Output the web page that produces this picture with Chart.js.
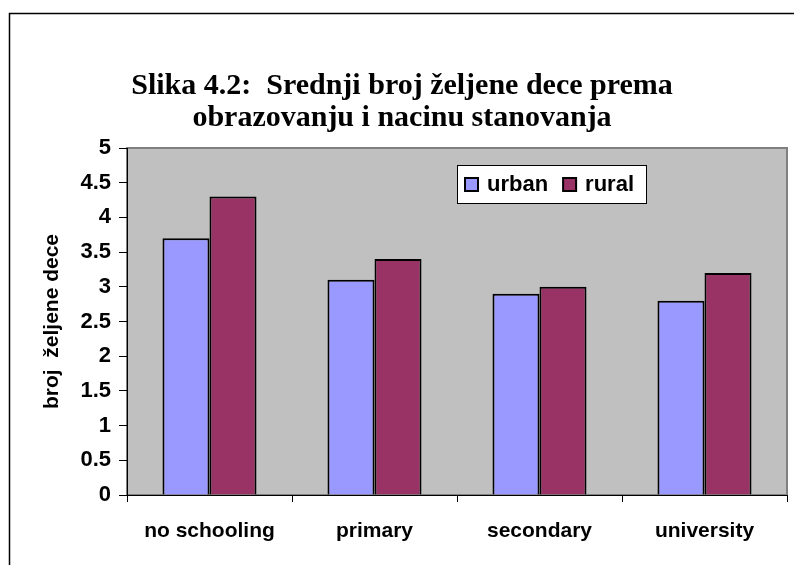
<!DOCTYPE html>
<html>
<head>
<meta charset="utf-8">
<script src="https://cdn.jsdelivr.net/npm/chart.js@4/dist/chart.umd.min.js"></script>
<style>
  html, body { margin: 0; padding: 0; background: #fff; }
  #wrap { width: 794px; height: 565px; position: relative; }
</style>
</head>
<body>
<div id="wrap"><canvas id="chart" width="794" height="565"></canvas></div>
<script>
const categories = ['no schooling', 'primary', 'secondary', 'university'];
const urban = [3.7, 3.1, 2.9, 2.8];
const rural = [4.3, 3.4, 3.0, 3.2];
const titleLines = ['Slika 4.2:  Srednji broj željene dece prema', 'obrazovanju i nacinu stanovanja'];
const yTitle = 'broj  željene dece';

const sans = "'Liberation Sans', Arial, sans-serif";
const serif = "'Liberation Serif', 'Times New Roman', serif";

// frame, grey plot area and title
const backdrop = {
    id: 'backdrop',
    beforeDraw(chart) {
        const { ctx, chartArea: a } = chart;
        ctx.save();
        ctx.strokeStyle = '#000';
        ctx.lineWidth = 1.5;
        ctx.strokeRect(9.5, 13.5, 820, 600);
        ctx.fillStyle = '#c0c0c0';
        ctx.fillRect(a.left, a.top, a.right - a.left, a.bottom - a.top);
        ctx.strokeStyle = '#808080';
        ctx.lineWidth = 2;
        ctx.strokeRect(a.left, a.top, a.right - a.left, a.bottom - a.top);
        ctx.fillStyle = '#000';
        ctx.font = `bold 30px ${serif}`;
        ctx.textAlign = 'center';
        ctx.textBaseline = 'middle';
        ctx.fillText(titleLines[0], 402, 86);
        ctx.fillText(titleLines[1], 402, 118);
        ctx.restore();
    },
};

// legend box inside the plot
const boxLegend = {
    id: 'boxLegend',
    afterDraw(chart) {
        const { ctx } = chart;
        const x = 457, y = 165, w = 189, h = 38;
        ctx.save();
        ctx.fillStyle = '#fff';
        ctx.fillRect(x, y, w, h);
        ctx.strokeStyle = '#000';
        ctx.lineWidth = 1;
        ctx.strokeRect(x + 0.5, y + 0.5, w, h);
        ctx.font = `bold 22px ${sans}`;
        ctx.textBaseline = 'middle';
        let cx = x + 8;
        chart.data.datasets.forEach((ds) => {
            ctx.fillStyle = ds.backgroundColor;
            ctx.fillRect(cx, y + 13, 13, 13);
            ctx.lineWidth = 2;
            ctx.strokeRect(cx, y + 13, 13, 13);
            ctx.fillStyle = '#000';
            ctx.fillText(ds.label, cx + 22, y + 20);
            cx += 22 + ctx.measureText(ds.label).width + 15;
        });
        ctx.restore();
    },
};

new Chart(document.getElementById('chart'), {
    type: 'bar',
    data: {
        labels: categories,
        datasets: [
            { label: 'urban', data: urban, backgroundColor: '#9999ff', borderColor: '#000', borderWidth: 2 },
            { label: 'rural', data: rural, backgroundColor: '#993366', borderColor: '#000', borderWidth: 2 },
        ],
    },
    options: {
        responsive: false,
        animation: false,
        layout: { padding: { left: 0, right: 7, top: 148, bottom: 0 } },
        plugins: { legend: { display: false }, title: { display: false }, tooltip: { enabled: false } },
        datasets: { bar: { categoryPercentage: 0.57, barPercentage: 1.0 } },
        scales: {
            x: {
                afterFit: (s) => { s.height = 70; },
                grid: { drawOnChartArea: false, drawTicks: true, tickLength: 7, color: '#000', offset: true },
                border: { color: '#000', width: 1 },
                ticks: { color: '#000', font: { family: sans, size: 21, weight: 'bold' }, padding: 17 },
            },
            y: {
                min: 0,
                max: 5,
                afterFit: (s) => { s.width = 127; },
                grid: { drawOnChartArea: false, drawTicks: true, tickLength: 8, color: '#000' },
                border: { color: '#000', width: 1 },
                ticks: { stepSize: 0.5, color: '#000', font: { family: sans, size: 22, weight: 'bold' }, padding: 8, callback: (v) => String(v) },
                title: { display: true, text: yTitle, color: '#000', font: { family: sans, size: 21, weight: 'bold' }, padding: { top: 40, bottom: 0 } },
            },
        },
    },
    plugins: [backdrop, boxLegend],
});
</script>
</body>
</html>
